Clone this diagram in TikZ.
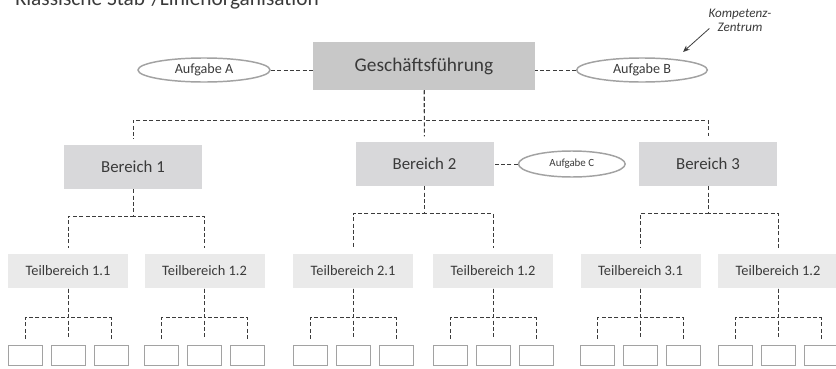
\documentclass[tikz,border=0pt]{standalone}
\usepackage{fontspec}
\setmainfont{Carlito}
\usepackage{xcolor}
\usetikzlibrary{arrows.meta, positioning, shapes.geometric}
\definecolor{orgtext}{HTML}{3A3A3A}
\definecolor{orghead}{HTML}{C8C8C8}
\definecolor{orgunit}{HTML}{D8D8DA}
\definecolor{orgsub}{HTML}{EAEAEA}
\definecolor{orgline}{HTML}{3C3C3C}
\definecolor{orgrim}{HTML}{A2A2A2}

\begin{document}
\begin{tikzpicture}[
  x=0.75pt, y=-0.75pt,
  text=orgtext,
  >={Stealth[length=5pt, width=4pt]},
  head/.style={fill=orghead, minimum width=166.5pt, minimum height=36pt,
               font=\fontsize{14.5}{17}\selectfont},
  unit/.style={fill=orgunit, minimum width=103.5pt, minimum height=33pt,
               font=\fontsize{12.6}{15}\selectfont},
  subunit/.style={fill=orgsub, minimum width=90pt, minimum height=26pt,
                  font=\fontsize{10.8}{13}\selectfont},
  leaf/.style={draw=orgrim, line width=0.75pt, fill=white,
               minimum width=25.5pt, minimum height=15pt},
  staff/.style={ellipse, draw=orgrim, line width=1.1pt, inner sep=0pt,
                minimum width=99pt, minimum height=18pt,
                font=\fontsize{10.6}{12}\selectfont},
  note/.style={align=center, inner sep=0pt,
               font=\fontsize{9.8}{10.5}\selectfont\itshape},
  tree/.style={draw=orgline, line width=0.7pt,
               dash pattern=on 3pt off 1.8pt, shorten >=4pt},
  staffline/.style={draw=orgline, line width=0.7pt, dash pattern=on 3pt off 1.8pt},
  pointer/.style={->, draw=orgline, line width=0.6pt}
]
\useasboundingbox (0,0) rectangle (836,368);

% Title (cut at the top edge)
\node[anchor=base west, inner sep=0pt, font=\fontsize{16}{19}\selectfont]
  (title) at (15,5) {Klassische Stab-/Linienorganisation};

% Top of the line
\node[head] (gf) at (424,66) {Geschäftsführung};

% Staff positions
\node[staff] (staffA) at (204,70) {Aufgabe A};
\node[staff, minimum width=98pt] (staffB) at (642,70) {Aufgabe B};
\node[note] (kc) at (740,20) {Kompetenz-\\ Zentrum};
\coordinate (kcTip) at (683,52);

% Bereiche
\node[unit] (b1) at (133,167) {Bereich 1};
\node[unit] (b2) at (424.5,164) {Bereich 2};
\node[unit] (b3) at (708,164) {Bereich 3};
\node[staff, right=18pt of b2, minimum width=80pt, minimum height=19.5pt,
      font=\fontsize{8.2}{10}\selectfont] (staffC) {Aufgabe C};

% Teilbereiche
\node[subunit] (t11) at (68,271) {Teilbereich 1.1};
\node[subunit] (t12) at (204.5,271) {Teilbereich 1.2};
\node[subunit] (t21) at (353,271) {Teilbereich 2.1};
\node[subunit] (t22) at (493,271) {Teilbereich 1.2};
\node[subunit] (t31) at (640.5,271) {Teilbereich 3.1};
\node[subunit] (t32) at (778,271) {Teilbereich 1.2};

% Edges: staff positions
\draw[staffline] (staffA.east) -- (staffA.east -| gf.west);
\draw[staffline] (staffB.west) -- (staffB.west -| gf.east);
\draw[staffline] (staffC) -- (b2);
\draw[pointer] ([shift={(1,-3)}]kc.south west) -- (kcTip);

% Edges: line hierarchy
\draw[tree] (gf.south) -- ++(0,30) -| (b1.north);
\draw[tree] (gf.south) -- ++(0,30) -| (b3.north);
\draw[tree] (gf.south) -- (b2.north);
\foreach \b/\l/\r in {b1/t11/t12, b2/t21/t22, b3/t31/t32} {
  \draw[tree] (\b.south) -- ++(0,27) -| (\l.north);
  \draw[tree] (\b.south) -- ++(0,27) -| (\r.north);
}

% Leaves under each Teilbereich
\foreach \t/\x in {t11/68, t12/204.5, t21/353, t22/493, t31/640.5, t32/778} {
  \node[leaf] (\t-a) at (\x-43,355) {};
  \node[leaf] (\t-b) at (\x,355) {};
  \node[leaf] (\t-c) at (\x+43,355) {};
  \draw[tree] (\t.south) -- ++(0,29) -| (\t-a.north);
  \draw[tree] (\t.south) -- ++(0,29) -| (\t-c.north);
  \draw[tree] (\t.south) -- (\t-b.north);
}

\end{tikzpicture}
\end{document}
